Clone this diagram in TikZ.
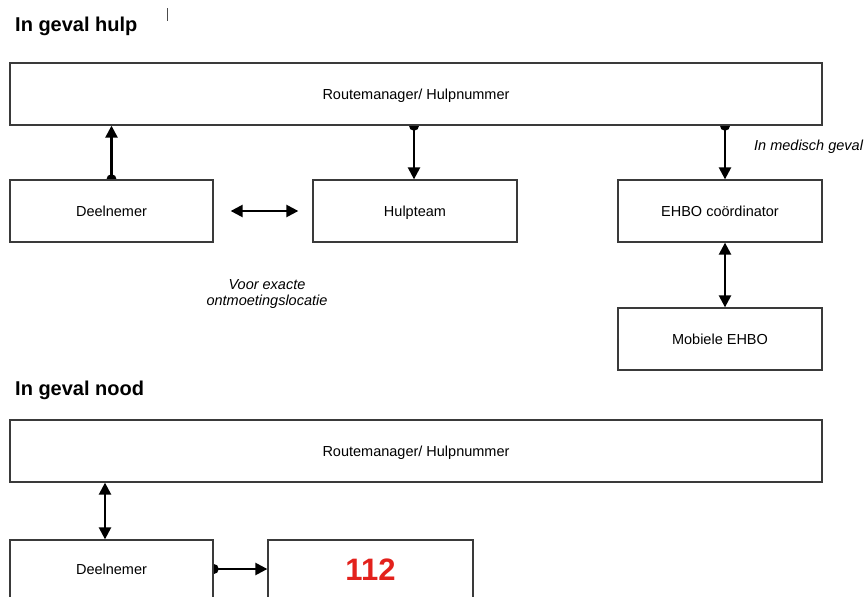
\documentclass[tikz,border=0pt]{standalone}
\usepackage{fontspec}
\setmainfont{Liberation Sans}
\usetikzlibrary{arrows.meta,backgrounds}
\definecolor{boxline}{HTML}{3A3A3A}
\definecolor{nred}{HTML}{E3211C}
\tikzset{
  box/.style={draw=boxline, line width=1.3pt, fill=white, rectangle, inner sep=0pt,
    text height=10.5pt, text depth=0pt, font=\fontsize{14.5}{17}\selectfont},
  wide/.style={minimum width=812pt, minimum height=62pt},
  small/.style={minimum width=203pt, minimum height=62pt},
  conn/.style={line width=2.4pt, black},
  tipboth/.style={{Triangle[length=12pt,width=12pt]}-{Triangle[length=12pt,width=12pt]}},
  tipdot/.style={{Circle[length=10pt]}-{Triangle[length=12pt,width=12pt]}, shorten <=-5pt},
  heading/.style={anchor=base west, inner sep=0pt, font=\fontsize{20}{24}\selectfont\bfseries},
  note/.style={inner sep=0pt, font=\fontsize{14.5}{17}\selectfont\itshape},
}
\begin{document}
\begin{tikzpicture}[x=1pt,y=-1pt]
\clip (0,0) rectangle (868,597);

% headings
\node[heading] (hh) at (15,31) {In geval hulp};
\node[heading] (hn) at (15,395) {In geval nood};
\draw[line width=0.8pt, black!70] (167,8) -- (167,21);

% section 1
\node[box, wide] (rm1) at (416,94) {Routemanager/ Hulpnummer};
\node[box, small] (d1) at (111.5,211) {Deelnemer};
\node[box, small, minimum width=204pt] (h1) at (415,211) {Hulpteam};
\node[box, small, minimum width=204pt] (e1) at (720,211) {EHBO coördinator};
\node[box, small, minimum width=204pt] (m1) at (720,339) {Mobiele EHBO};

% section 2
\node[box, wide] (rm2) at (416,451) {Routemanager/ Hulpnummer};
\node[box, small, minimum height=58pt] (d2) at (111.5,569) {Deelnemer};
\node[box, small, minimum width=205pt, minimum height=58pt, text height=22pt, text depth=0pt,
  font=\fontsize{31}{34}\selectfont\bfseries, text=nred] (n112) at (370.5,569) {112};

% labels
\node[note, anchor=base west] (lmed) at (754,150) {In medisch geval};
\node[note, align=center] (lvoor) at (267,294) {Voor exacte\\[-1pt]ontmoetingslocatie};

% connectors (behind boxes)
\begin{scope}[on background layer]
\fill[white] (0,0) rectangle (868,597);
\draw[conn, tipdot] (d1.north) -- (d1.north |- rm1.south);
\draw[conn, tipdot] ([xshift=-1pt]h1.north |- rm1.south) -- ([xshift=-1pt]h1.north);
\draw[conn, tipdot] ([xshift=5pt]e1.north |- rm1.south) -- ([xshift=5pt]e1.north);
\draw[conn, tipdot] (d2.east) -- (n112.west);
\end{scope}
\draw[conn, tipboth, shorten <=17pt, shorten >=14pt] (d1.east) -- (h1.west);
\draw[conn, tipboth] ([xshift=5pt]e1.south) -- ([xshift=5pt]m1.north);
\draw[conn, tipboth] ([xshift=-6.5pt]d2.north |- rm2.south) -- ([xshift=-6.5pt]d2.north);
\end{tikzpicture}
\end{document}
